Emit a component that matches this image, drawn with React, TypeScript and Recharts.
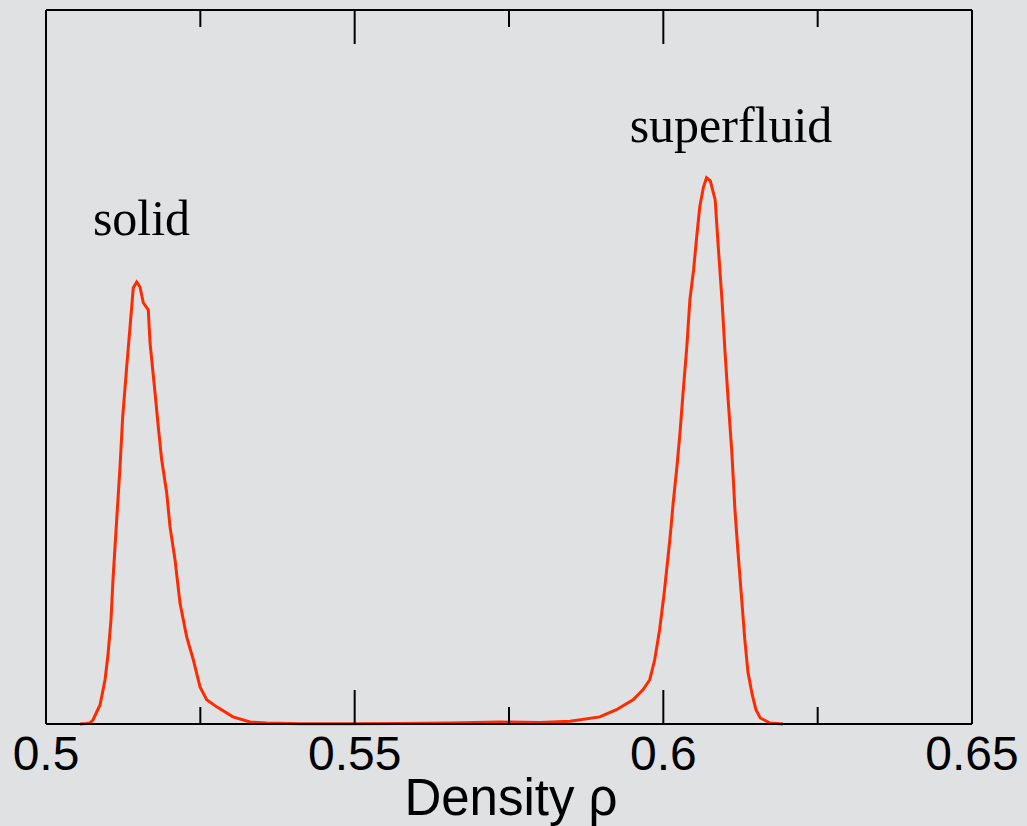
import React from "react";
import { LineChart, Line, XAxis, YAxis, ReferenceDot, ReferenceLine } from "recharts";

// histogram of the density (arbitrary units, max ~ 100)
const rho = [
  0.5055, 0.5065, 0.5071, 0.5076, 0.50875, 0.50956, 0.51004, 0.51053, 0.51085,
  0.51145, 0.51199, 0.51242, 0.51307, 0.51361, 0.51414, 0.51469, 0.51523,
  0.51576, 0.51657, 0.51685, 0.51766, 0.51819, 0.51874, 0.51955, 0.52009,
  0.5209, 0.52171, 0.52279, 0.52386, 0.52495, 0.52603, 0.52765, 0.53029,
  0.53305, 0.53575, 0.5411, 0.5492, 0.5573, 0.5654, 0.5735, 0.58, 0.5849,
  0.5897, 0.5924, 0.5951, 0.5967, 0.5978, 0.5986, 0.5994, 0.6002, 0.6011,
  0.6016, 0.6022, 0.6027, 0.6032, 0.6038, 0.6043, 0.6049, 0.6054, 0.6059,
  0.6065, 0.607, 0.6076, 0.6084, 0.6089, 0.6095, 0.61, 0.6105, 0.6111, 0.6116,
  0.6121, 0.6127, 0.6132, 0.6137, 0.6144, 0.615, 0.6157, 0.6173, 0.6194,
];
const density = [
  0, 0.07, 0.14, 0.56, 2.66, 6.16, 9.66, 14.6, 20.2, 28.6, 36.0, 43.0, 50.0,
  55.6, 61.1, 61.9, 61.2, 59.0, 58.0, 53.4, 46.4, 41.6, 37.0, 32.4, 27.6, 23.0,
  16.9, 12.2, 9.0, 5.2, 3.4, 2.4, 1.0, 0.28, 0.14, 0.05, 0.03, 0.07, 0.14, 0.28,
  0.2, 0.4, 1.0, 2.0, 3.4, 4.8, 6.2, 9.0, 13.2, 18.8, 26.2, 31.0, 36.0, 40.8,
  46.4, 52.8, 59.4, 63.6, 68.2, 72.4, 75.2, 76.5, 76.1, 73.4, 66.8, 59.4, 52.0,
  45.4, 38.0, 30.0, 24.0, 17.4, 11.8, 7.3, 4.1, 2.0, 0.84, 0.14, 0,
];

const xDomain = [0.5, 0.65];
const xTicks = [0.5, 0.525, 0.55, 0.575, 0.6, 0.625, 0.65];
const majorTicks = [0.5, 0.55, 0.6, 0.65];

const annotationText = ["solid", "superfluid"];
const annotationX = [0.51547, 0.61096];
const annotationY = [68.5, 81.5];

const data = rho.map((r, i) => ({ rho: r, p: density[i] }));

const isMajor = (v: number) => majorTicks.some((m) => Math.abs(m - v) < 1e-9);

function BottomTick(props: any) {
  const { x, y, payload } = props;
  const major = isMajor(payload.value);
  const len = major ? 34 : 17;
  return (
    <g>
      <line x1={x} y1={y} x2={x} y2={y - len} stroke="#000" strokeWidth={2} />
      {major && (
        <text
          x={x}
          y={y + 46}
          textAnchor="middle"
          fontFamily="'Liberation Sans', Arial, sans-serif"
          fontSize={48}
          fill="#000"
        >
          {String(payload.value)}
        </text>
      )}
    </g>
  );
}

function TopTick(props: any) {
  const { x, y, payload } = props;
  const len = isMajor(payload.value) ? 34 : 17;
  return <line x1={x} y1={y} x2={x} y2={y + len} stroke="#000" strokeWidth={2} />;
}

function AxisTitle(props: any) {
  const vb = props.viewBox;
  return (
    <text
      x={vb.x + vb.width / 2 + 2}
      y={vb.y + 91}
      textAnchor="middle"
      fontFamily="'Liberation Sans', Arial, sans-serif"
      fontSize={51}
      fill="#000"
    >
      Density ρ
    </text>
  );
}

export default function App() {
  return (
    <div
      style={{
        position: "absolute",
        left: 0,
        top: 0,
        width: 1027,
        height: 826,
        background: "#dfe1e3",
      }}
    >
      <LineChart
        width={1027}
        height={826}
        data={data}
        margin={{ top: 0, right: 55, bottom: 0, left: 46 }}
      >
        <XAxis
          xAxisId="bottom"
          dataKey="rho"
          type="number"
          domain={xDomain}
          ticks={xTicks}
          height={102}
          tickSize={0}
          tickMargin={0}
          tickLine={false}
          tick={<BottomTick />}
          axisLine={{ stroke: "#000", strokeWidth: 2 }}
          allowDataOverflow
          label={{ content: AxisTitle }}
        />
        <XAxis
          xAxisId="top"
          orientation="top"
          dataKey="rho"
          type="number"
          domain={xDomain}
          ticks={xTicks}
          height={10}
          tickSize={0}
          tickMargin={0}
          tickLine={false}
          tick={<TopTick />}
          axisLine={{ stroke: "#000", strokeWidth: 2 }}
          allowDataOverflow
        />
        <YAxis yAxisId="left" domain={[0, 100]} hide />
        <ReferenceLine
          xAxisId="bottom"
          yAxisId="left"
          x={xDomain[0]}
          stroke="#000"
          strokeWidth={2}
        />
        <ReferenceLine
          xAxisId="bottom"
          yAxisId="left"
          x={xDomain[1]}
          stroke="#000"
          strokeWidth={2}
        />
        <Line
          xAxisId="bottom"
          yAxisId="left"
          dataKey="p"
          type="linear"
          stroke="#ff2a00"
          strokeWidth={3}
          dot={false}
          isAnimationActive={false}
        />
        {annotationText.map((t, i) => (
          <ReferenceDot
            key={t}
            xAxisId="bottom"
            yAxisId="left"
            x={annotationX[i]}
            y={annotationY[i]}
            r={0}
            stroke="none"
            fill="none"
            label={{
              content: (p: any) => (
                <text
                  x={p.viewBox.x + p.viewBox.width / 2}
                  y={p.viewBox.y + p.viewBox.height / 2}
                  textAnchor="middle"
                  fontFamily="'Liberation Serif', 'Times New Roman', serif"
                  fontSize={50}
                  fill="#000"
                >
                  {t}
                </text>
              ),
            }}
          />
        ))}
      </LineChart>
    </div>
  );
}
